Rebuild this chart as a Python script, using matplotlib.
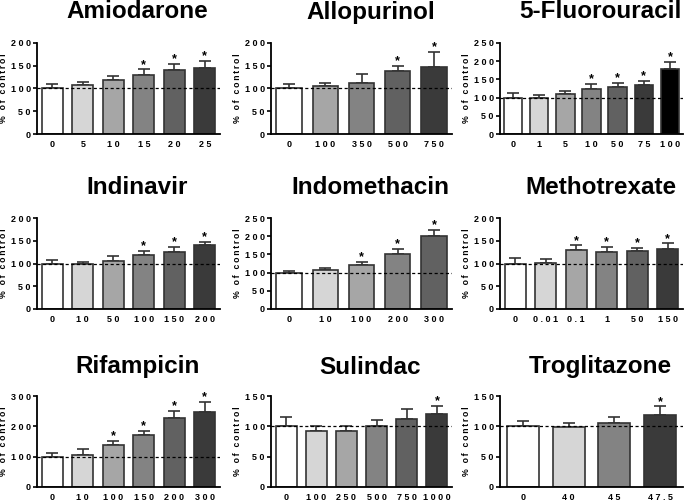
import matplotlib.pyplot as plt

plt.rcParams['font.family'] = ['Liberation Sans', 'DejaVu Sans']
plt.rcParams['font.weight'] = 'bold'

# data: doses, mean % of control, error (upper), significance
amio_dose = ['0', '5', '10', '15', '20', '25']
amio_mean = [100, 108, 118, 129, 140, 145]
amio_err = [10, 7, 10, 13, 14, 15]
amio_sig = [0, 0, 0, 1, 1, 1]

allo_dose = ['0', '100', '350', '500', '750']
allo_mean = [100, 105, 113, 139, 147]
allo_err = [10, 7, 18, 10, 33]
allo_sig = [0, 0, 0, 1, 1]

fu_dose = ['0', '1', '5', '10', '50', '75', '100']
fu_mean = [100, 100, 109, 123, 128, 134, 179]
fu_err = [12, 7, 8, 14, 12, 12, 19]
fu_sig = [0, 0, 0, 1, 1, 1, 1]

indi_dose = ['0', '10', '50', '100', '150', '200']
indi_mean = [100, 100, 106, 119, 125, 141]
indi_err = [7, 3, 11, 8, 12, 7]
indi_sig = [0, 0, 0, 1, 1, 1]

indo_dose = ['0', '10', '100', '200', '300']
indo_mean = [100, 107, 122, 151, 200]
indo_err = [4, 5, 7, 14, 17]
indo_sig = [0, 0, 1, 1, 1]

mtx_dose = ['0', '0.01', '0.1', '1', '50', '150']
mtx_mean = [100, 101, 130, 126, 127, 132]
mtx_err = [13, 8, 10, 10, 7, 12]
mtx_sig = [0, 0, 1, 1, 1, 1]

rif_dose = ['0', '10', '100', '150', '200', '300']
rif_mean = [100, 107, 137, 171, 226, 248]
rif_err = [13, 17, 15, 15, 25, 33]
rif_sig = [0, 0, 1, 1, 1, 1]

sul_dose = ['0', '100', '250', '500', '750', '1000']
sul_mean = [100, 92, 93, 101, 112, 120]
sul_err = [15, 8, 7, 10, 16, 14]
sul_sig = [0, 0, 0, 0, 0, 1]

tro_dose = ['0', '40', '45', '47.5']
tro_mean = [100, 99, 105, 118]
tro_err = [9, 6, 10, 15]
tro_sig = [0, 0, 0, 1]

W = '#ffffff'
G1 = '#d6d6d6'
G2 = '#a6a6a6'
G3 = '#838383'
G4 = '#616161'
G5 = '#3a3a3a'
K = '#000000'

panels = [
    ('Amiodarone', amio_dose, amio_mean, amio_err, amio_sig, [W, G1, G2, G3, G4, G5], 200, 50),
    ('Allopurinol', allo_dose, allo_mean, allo_err, allo_sig, [W, G2, G3, G4, G5], 200, 50),
    ('5-Fluorouracil', fu_dose, fu_mean, fu_err, fu_sig, [W, G1, G2, G3, G4, G5, K], 250, 50),
    ('Indinavir', indi_dose, indi_mean, indi_err, indi_sig, [W, G1, G2, G3, G4, G5], 200, 50),
    ('Indomethacin', indo_dose, indo_mean, indo_err, indo_sig, [W, G1, G2, G3, G4], 250, 50),
    ('Methotrexate', mtx_dose, mtx_mean, mtx_err, mtx_sig, [W, G1, G2, G3, G4, G5], 200, 50),
    ('Rifampicin', rif_dose, rif_mean, rif_err, rif_sig, [W, G1, G2, G3, G4, G5], 300, 100),
    ('Sulindac', sul_dose, sul_mean, sul_err, sul_sig, [W, G1, G2, G3, G4, G5], 150, 50),
    ('Troglitazone', tro_dose, tro_mean, tro_err, tro_sig, [W, G1, G3, G5], 150, 50),
]

FW, FH = 685, 501
cols = [(37, 220), (271, 452), (500, 683)]
rows = [(43, 134), (218, 309), (396, 487)]
title_y = [12, 187, 367]


def spaced(s, sep=' '):
    return sep.join(s)


fig = plt.figure(figsize=(FW / 100, FH / 100), dpi=100)

for i, (name, dose, mean, err, sig, colors, ytop, ystep) in enumerate(panels):
    r, c = divmod(i, 3)
    x0, x1 = cols[c]
    y0, y1 = rows[r]
    ax = fig.add_axes([x0 / FW, 1 - y1 / FH, (x1 - x0) / FW, (y1 - y0) / FH])
    xs = list(range(len(dose)))
    ax.bar(xs, mean, width=0.7, color=colors, edgecolor='#333333', linewidth=1.2, zorder=2)
    ax.errorbar(xs, mean, yerr=[[0] * len(err), err], fmt='none', ecolor='#333333',
                elinewidth=1.2, capsize=4, capthick=1.2, zorder=1)
    ax.axhline(100, color='black', linestyle=(0, (2.5, 2)), linewidth=0.9, zorder=3)
    for x, m, e, s in zip(xs, mean, err, sig):
        if s:
            ax.annotate('*', (x, m + e), xytext=(0, -1), textcoords='offset points',
                        ha='center', va='bottom', fontsize=9, fontweight='bold')
    ax.set_xlim(-0.5, len(dose) - 0.5)
    ax.set_ylim(0, ytop)
    yt = list(range(0, ytop + 1, ystep))
    ax.set_yticks(yt)
    ax.set_yticklabels([spaced(str(v)) for v in yt], fontsize=6.5, fontweight='bold')
    ax.set_xticks(xs)
    ax.set_xticklabels([spaced(d) for d in dose], fontsize=6.5, fontweight='bold')
    ax.tick_params(axis='x', length=0, pad=4)
    ax.tick_params(axis='y', length=3, width=1.2, pad=1.5)
    for side in ('top', 'right'):
        ax.spines[side].set_visible(False)
    for side in ('left', 'bottom'):
        ax.spines[side].set_linewidth(1.3)
    ax.set_ylabel(spaced('% of control', '\u2009'), fontsize=6.2, fontweight='bold', labelpad=2)
    fig.text(((x0 + x1) / 2 + 9) / FW, 1 - title_y[r] / FH, name, ha='center', va='center',
             fontsize=17.5, fontweight='bold')

fig.savefig('out.png', dpi=100)
